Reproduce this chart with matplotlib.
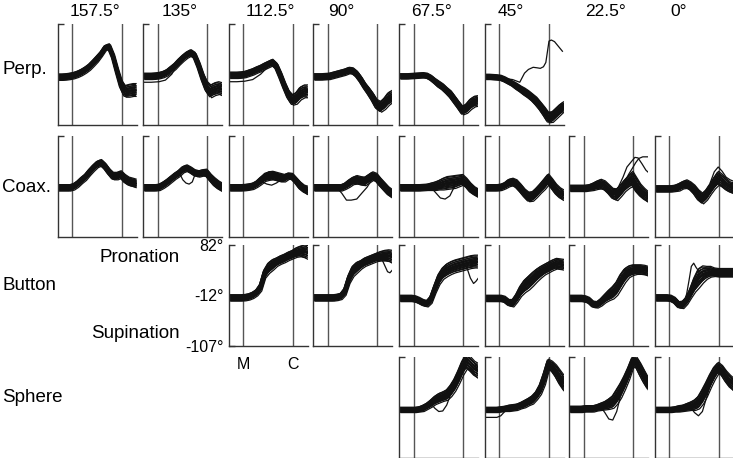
import numpy as np
import matplotlib
matplotlib.use("Agg")
import matplotlib.pyplot as plt
import matplotlib.transforms as mtransforms

plt.rcParams["font.family"] = ["Liberation Sans", "DejaVu Sans"]

# ── data ─────────────────────────────────────────────────────────────────────

ANGLES = ["157.5°", "135°", "112.5°", "90°", "67.5°", "45°", "22.5°", "0°"]
GRASPS = ["Perp.", "Coax.", "Button", "Sphere"]
# angle columns recorded for each grasp
GRASP_COLS = [[0, 1, 2, 3, 4, 5],
              [0, 1, 2, 3, 4, 5, 6, 7],
              [2, 3, 4, 5, 6, 7],
              [4, 5, 6, 7]]

# normalised time (% of movement)
T = [0, 5, 10, 15, 20, 25, 30, 35, 40, 45, 50, 55, 60, 65, 70, 75, 80, 85, 90, 95, 100]
EVENT_X = [18, 81]
EVENT_LABELS = ["M", "C"]
Y_TICKS = [82, -12, -107]
Y_TICK_LABELS = ["82°", "-12°", "-107°"]

PERP_MEAN = [
    [-17.5, -17.5, -17, -16, -14.5, -12, -8.5, -4, 1.5, 9, 17, 26, 37, 40, 22, -5, -30, -44, -43, -41.5, -41.5],
    [-16, -16, -16, -15.5, -14.5, -12.5, -9, -3, 3, 11, 18, 24, 28, 23, 5, -17, -35, -44, -40, -38, -40],
    [-14, -14, -14, -13.5, -12.5, -10, -7.5, -4, -1, 3, 6.5, 10, 3, -14, -33, -50, -60, -57, -48, -44, -44],
    [-17, -17, -17, -16.5, -16, -14, -12, -10, -8, -5, -6, -12, -22, -34, -44, -55, -68, -73, -67, -58, -54],
    [-16, -16, -16, -15.5, -15, -14.5, -14, -15, -19, -25, -31, -36, -43, -50, -60, -70, -80, -76, -68, -63, -62],
    [-17, -17, -17.5, -18, -19, -22, -26, -30, -35, -40, -45, -50, -56, -63, -72, -82, -93, -92, -85, -78, -73],
]
PERP_SPREAD = [
    [6, 6, 6, 6, 6, 6, 6, 6, 6, 6, 6, 5, 5, 5, 5, 6, 8, 11, 12, 12, 12],
    [6, 6, 6, 6, 6, 6, 6, 6, 6, 6, 6, 6, 6, 6, 7, 8, 10, 12, 12, 12, 12],
    [6, 6, 6, 6, 6, 6, 6, 6, 6, 6, 6, 6, 6, 7, 7, 8, 10, 11, 12, 12, 12],
    [6, 6, 6, 6, 6, 6, 6, 6, 6, 6, 6, 6, 6, 6, 7, 8, 9, 10, 11, 12, 12],
    [5, 5, 5, 5, 5, 5, 5, 5, 5, 5, 6, 6, 6, 7, 7, 7, 8, 9, 10, 10, 10],
    [5, 5, 5, 5, 5, 5, 5, 5, 6, 6, 7, 7, 7, 8, 8, 9, 10, 10, 10, 10, 10],
]

COAX_MEAN = [
    [-15, -15, -15, -15, -13, -8, -1, 5, 14, 22, 29, 32, 25, 15, 7, 7, 10, 2, -3, -5, -7],
    [-15, -15, -15, -15, -14, -10, -5, 1, 7, 12, 19, 22, 18, 13, 11, 13, 13, 4, -4, -10, -14],
    [-15, -15, -15, -15, -14.5, -13.5, -12, -8, -2, 4, 7, 8, 6, 4, 3, 7, 6, -2, -11, -17, -20],
    [-15, -15, -15, -15, -15, -15, -15, -15, -12, -7, -2, 0, -2, -3, 2, 7, 4, -5, -13, -21, -26],
    [-15, -15, -15, -15, -15, -15, -14.5, -14, -13, -12, -10, -8, -6, -5, -4, -2, 0, -6, -15, -21, -25],
    [-15, -15, -15, -15, -14, -11, -6, -4, -8, -16, -25, -32, -31, -24, -16, -8, 1, -8, -18, -25, -29],
    [-16, -16, -16, -16, -16, -15, -13, -10, -8, -11, -18, -26, -28, -20, -11, -4, 2, -10, -20, -27, -32],
    [-17, -17, -17, -17, -17, -16, -14, -10, -8, -12, -19, -29, -35, -28, -17, -6, 3, -2, -9, -14, -16],
]
COAX_SPREAD = [
    [6, 6, 6, 6, 6, 6, 6, 6, 6, 6, 6, 6, 6, 6, 7, 7, 7, 8, 8, 8, 8],
    [6, 6, 6, 6, 6, 6, 6, 6, 6, 6, 6, 6, 6, 6, 6, 6, 7, 7, 8, 8, 8],
    [6, 6, 6, 6, 6, 6, 6, 6, 7, 7, 8, 8, 8, 8, 7, 6, 6, 6, 7, 7, 8],
    [6, 6, 6, 6, 6, 6, 6, 6, 6, 7, 7, 8, 8, 8, 8, 8, 8, 8, 8, 8, 8],
    [6, 6, 6, 6, 6, 6, 6, 6, 7, 8, 9, 11, 12, 12, 12, 11, 10, 9, 9, 8, 8],
    [6, 6, 6, 6, 6, 6, 7, 7, 8, 8, 8, 9, 9, 9, 9, 10, 10, 10, 10, 10, 10],
    [6, 6, 6, 6, 6, 6, 7, 8, 9, 9, 9, 10, 11, 11, 11, 12, 14, 14, 12, 11, 10],
    [6, 6, 6, 6, 6, 6, 7, 7, 8, 8, 9, 10, 10, 10, 10, 11, 13, 12, 11, 10, 10],
]

BUTTON_MEAN = [
    [-17, -17, -17, -17, -16.5, -15, -12, -7, 3, 28, 39, 45, 50, 54, 57, 61, 64, 68, 70, 70, 68],
    [-17, -17, -17, -17, -17, -17, -16, -14, -5, 18, 33, 40, 45, 50, 53, 56, 59, 61, 62, 62, 60],
    [-18, -18, -18, -18, -19, -22, -26, -28, -20, 0, 18, 29, 35, 39, 42, 44, 46, 48, 50, 51, 51],
    [-18, -18, -18, -18, -18, -20, -26, -27, -17, -4, 5, 11, 18, 25, 31, 36, 40, 44, 47, 46, 45],
    [-18, -18, -18, -18, -19, -22, -29, -30, -25, -18, -12, -7, 1, 14, 25, 32, 35, 36, 36, 35, 33],
    [-17, -17, -17, -17, -18, -22, -30, -30, -22, -8, 8, 20, 27, 30, 32, 31, 30, 30, 30, 30, 30],
]
BUTTON_SPREAD = [
    [6, 6, 6, 6, 6, 6, 6, 6, 7, 8, 10, 10, 8, 8, 8, 8, 8, 9, 10, 12, 13],
    [6, 6, 6, 6, 6, 6, 6, 6, 7, 8, 10, 10, 8, 8, 8, 8, 8, 9, 10, 11, 12],
    [6, 6, 6, 6, 6, 6, 6, 6, 7, 8, 10, 11, 12, 12, 12, 12, 12, 12, 12, 12, 12],
    [6, 6, 6, 6, 6, 6, 6, 7, 8, 10, 12, 13, 13, 12, 11, 10, 10, 10, 10, 10, 10],
    [6, 6, 6, 6, 6, 6, 6, 6, 7, 8, 10, 12, 13, 14, 13, 11, 10, 9, 9, 9, 9],
    [6, 6, 6, 6, 6, 6, 6, 7, 7, 9, 14, 18, 16, 12, 10, 8, 8, 8, 8, 8, 8],
]

SPHERE_MEAN = [
    [-17, -17, -17, -17, -17, -16, -14, -10, -5, 1, 5, 8, 11, 19, 30, 45, 62, 74, 68, 60, 56],
    [-17, -17, -17, -17, -16, -15, -14, -13, -12, -9, -6, -2, 2, 10, 22, 42, 68, 64, 55, 43, 33],
    [-16, -16, -16, -16, -15, -15, -15, -13, -11, -9, -6, -2, 8, 20, 35, 52, 72, 72, 58, 44, 32],
    [-17, -17, -17, -17, -17, -16, -15, -14, -12, -10, -8, -3, 8, 22, 38, 52, 62, 56, 45, 36, 30],
]
SPHERE_SPREAD = [
    [5, 5, 5, 5, 5, 5, 6, 6, 7, 8, 9, 9, 10, 11, 12, 13, 14, 14, 14, 14, 14],
    [5, 5, 5, 5, 5, 5, 6, 6, 6, 6, 7, 7, 8, 8, 10, 12, 10, 10, 12, 14, 15],
    [6, 6, 6, 6, 6, 6, 6, 6, 7, 8, 10, 12, 14, 14, 13, 12, 10, 10, 12, 12, 12],
    [5, 5, 5, 5, 5, 5, 6, 6, 7, 8, 10, 12, 14, 14, 13, 12, 10, 10, 11, 12, 12],
]

# position of each trial inside the band, and its timing lag (% of movement)
TRIAL_OFFSETS = [-1.0, -0.85, -0.7, -0.6, -0.5, -0.4, -0.3, -0.2, -0.12, -0.05, 0.0,
                 0.05, 0.12, 0.2, 0.3, 0.4, 0.5, 0.6, 0.7, 0.85, 1.0]
TRIAL_LAGS = [1.5, -1.0, 0.5, -2.0, 1.0, 0.0, -1.5, 2.0, -0.5, 1.0, 0.0,
              -1.0, 1.5, -2.0, 0.5, -0.5, 2.0, -1.5, 1.0, -1.0, 0.5]

# stray trials: (grasp row, angle column, time, angle)
STRAY_TRIALS = [
    (0, 1, [0, 10, 20, 28, 36, 44, 50], [-27, -27, -26, -23, -12, 8, 18]),
    (0, 2, [0, 10, 20, 30, 40, 48, 54], [-26, -26, -25, -22, -12, 0, 8]),
    (0, 5, [0, 20, 35, 44, 50, 55, 61, 66, 70, 74, 77, 79, 81, 84, 88, 93, 98],
     [-17, -19, -22, -27, -10, -3, 1, 0, -1, 2, 10, 30, 50, 52, 49, 40, 31]),
    (1, 1, [46, 50, 54, 58, 62, 66], [12, 0, -6, -8, -4, 12]),
    (1, 2, [36, 42, 48, 54, 60, 66, 70], [-8, -4, -8, -10, -6, 0, 3]),
    (1, 2, [38, 45, 52, 58, 64], [0, 12, 15, 14, 8]),
    (1, 3, [30, 36, 42, 48, 55, 62, 68, 74], [-15, -25, -38, -38, -36, -24, -14, 0]),
    (1, 4, [40, 46, 52, 58, 64, 70], [-14, -24, -34, -36, -30, -12]),
    (1, 6, [55, 62, 68, 73, 78, 83, 87, 92, 97, 100], [-24, -14, 5, 24, 33, 42, 41, 30, 18, 14]),
    (1, 6, [65, 70, 75, 80, 84, 88, 93, 97, 100], [-15, -5, 10, 22, 32, 40, 43, 43, 43]),
    (1, 7, [70, 75, 80, 85, 90, 95, 100], [-5, 15, 24, 16, 5, 0, -3]),
    (2, 1, [86, 90, 94, 97, 100], [58, 45, 32, 30, 35]),
    (2, 2, [80, 85, 90, 94, 97, 100], [45, 42, 20, 10, 14, 20]),
    (2, 5, [36, 40, 43, 46, 49, 52, 56, 60], [-28, -10, 15, 42, 48, 40, 32, 30]),
    (3, 0, [40, 45, 50, 55, 60, 65], [-5, -14, -20, -19, -8, 12]),
    (3, 1, [0, 5, 10, 15, 20, 25, 30], [-31, -31, -31, -31, -28, -20, -16]),
    (3, 2, [40, 45, 50, 55, 60, 65], [-12, -22, -34, -36, -20, 10]),
    (3, 3, [45, 50, 55, 60, 65, 70], [-12, -22, -28, -20, 5, 30]),
]

# ── layout (pixels of the 733 x 458 figure) ──────────────────────────────────

W, H = 733, 458
COL_LEFT = [57.7, 143.3, 229, 313.3, 399.3, 485, 569.3, 655]
ROW_TOP = [24, 136, 245, 357]
PANEL_W, PANEL_H = 79, 101
TITLE_X = [95, 179.5, 270, 341, 431, 511, 606, 679]
ROW_LABEL_Y = [69, 187, 285, 398]

MEANS = [PERP_MEAN, COAX_MEAN, BUTTON_MEAN, SPHERE_MEAN]
SPREADS = [PERP_SPREAD, COAX_SPREAD, BUTTON_SPREAD, SPHERE_SPREAD]

fig = plt.figure(figsize=(W / 100, H / 100), dpi=100)

axes = {}
for r, cols in enumerate(GRASP_COLS):
    for i, c in enumerate(cols):
        left = COL_LEFT[c] / W
        bottom = 1 - (ROW_TOP[r] + PANEL_H) / H
        ax = fig.add_axes([left, bottom, PANEL_W / W, PANEL_H / H])
        axes[(r, i)] = ax

        mean = np.array(MEANS[r][i], dtype=float)
        spread = np.array(SPREADS[r][i], dtype=float)
        t = np.array(T, dtype=float)
        for off, lag in zip(TRIAL_OFFSETS, TRIAL_LAGS):
            ax.plot(np.clip(t + lag, 0, 100), mean + off * spread,
                    color="#111111", lw=0.9, solid_capstyle="butt")

        for ex in EVENT_X:
            ax.axvline(ex, color="#555555", lw=1.0, zorder=0)

        ax.set_xlim(0, 100)
        ax.set_ylim(-107, 82)
        for side in ("top", "right"):
            ax.spines[side].set_visible(False)
        for side in ("left", "bottom"):
            ax.spines[side].set_color("#333333")
            ax.spines[side].set_linewidth(1.0)
        ax.set_xticks([])
        ax.tick_params(axis="y", direction="in", length=4, width=1.0,
                       color="#333333", pad=4, labelsize=11.5)
        if r == 2 and c == 2:
            ax.set_yticks(Y_TICKS)
            ax.set_yticklabels(Y_TICK_LABELS)
            trans = mtransforms.blended_transform_factory(ax.transData, ax.transAxes)
            for ex, lab in zip(EVENT_X, EVENT_LABELS):
                ax.text(ex, -0.18, lab, transform=trans, ha="center", va="center",
                        fontsize=11.5)
        else:
            ax.set_yticks([82])
            ax.set_yticklabels([])

# stray trials drawn on top of the bands
for r, i, xs, ys in STRAY_TRIALS:
    axes[(r, i)].plot(xs, ys, color="#111111", lw=0.9)

for c, lab in enumerate(ANGLES):
    fig.text(TITLE_X[c] / W, 1 - 12 / H, lab, ha="center", va="center", fontsize=12.5)

for r, lab in enumerate(GRASPS):
    fig.text(2 / W, 1 - ROW_LABEL_Y[r] / H, lab, ha="left", va="center", fontsize=13.5)

fig.text(180 / W, 1 - 257 / H, "Pronation", ha="right", va="center", fontsize=13.5)
fig.text(180 / W, 1 - 334 / H, "Supination", ha="right", va="center", fontsize=13.5)

fig.savefig("out.png", dpi=100)
